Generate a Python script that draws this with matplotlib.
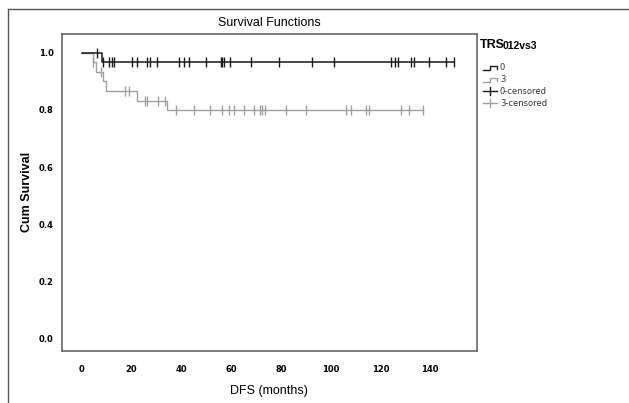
import numpy as np
import matplotlib
matplotlib.use("Agg")
import matplotlib.pyplot as plt
from matplotlib.lines import Line2D

# Kaplan-Meier steps (months, cumulative survival)
grp0_t = [0, 7.9]
grp0_s = [1.0, 0.969]
grp0_end = 149.5
grp0_cens = [6.1, 8.6, 11.0, 11.9, 13.0, 20.0, 22.0, 26.2, 27.3, 30.2, 39.1, 41.1, 43.1,
             50.1, 55.8, 56.5, 57.1, 59.4, 68.2, 79.2, 92.5, 101.3, 124.4, 126.0, 127.0,
             132.4, 133.5, 139.5, 146.5, 149.5]

grp3_t = [0, 4.4, 5.5, 8.6, 9.5, 22.2, 34.3]
grp3_s = [1.0, 0.967, 0.933, 0.9, 0.867, 0.833, 0.8]
grp3_end = 137.3
grp3_cens = [4.5, 7.8, 17.3, 18.9, 25.3, 26.2, 30.4, 33.3, 38.0, 45.2, 51.4, 56.2, 59.2,
             61.2, 65.2, 69.2, 71.5, 72.6, 73.5, 82.2, 90.2, 106.3, 108.3, 114.3, 115.4,
             128.4, 131.4, 137.3]

xticks = [0, 20, 40, 60, 80, 100, 120, 140]
yticks = [0.0, 0.2, 0.4, 0.6, 0.8, 1.0]

BLACK = "#1a1a1a"
GRAY = "#a0a0a0"
plt.rcParams["font.family"] = ["Liberation Sans", "DejaVu Sans"]


def surv_at(times, levels, t):
    idx = np.searchsorted(times, t, side="right") - 1
    return np.array(levels)[idx]


fig = plt.figure(figsize=(6.29, 4.03), dpi=100)
ax = fig.add_axes([0.0986, 0.129, 0.659, 0.787])

# gray group first so black sits on top
for times, levels, end, cens, col, lw in [
        (grp3_t, grp3_s, grp3_end, grp3_cens, GRAY, 1.0),
        (grp0_t, grp0_s, grp0_end, grp0_cens, BLACK, 1.1)]:
    tt = list(times) + [end]
    ss = list(levels) + [levels[-1]]
    ax.step(tt, ss, where="post", color=col, lw=lw, zorder=3)
    ax.plot(cens, surv_at(times, levels, cens), ls="none", marker="|",
            ms=7, mew=1.0, color=col, zorder=4)

ax.set_xlim(-8, 158.7)
ax.set_ylim(-0.042, 1.066)
ax.set_xticks(xticks)
ax.set_yticks(yticks)
ax.set_xticklabels([str(v) for v in xticks], fontsize=6, fontweight="bold",
                   family="DejaVu Sans")
ax.set_yticklabels(["%.1f" % v for v in yticks], fontsize=6, fontweight="bold",
                   family="DejaVu Sans")
ax.tick_params(axis="x", length=0, pad=10)
ax.tick_params(axis="y", length=0, pad=6)
for sp in ax.spines.values():
    sp.set_color("#666666")
    sp.set_linewidth(1.2)

ax.set_xlabel("DFS (months)", fontsize=9, labelpad=8)
ax.set_ylabel("Cum Survival", fontsize=9, fontweight="bold", labelpad=4)
ax.set_title("Survival Functions", fontsize=9, pad=6)

# outer frame of the exported chart
fig.add_artist(Line2D([8 / 629, 8 / 629], [0, 1 - 9 / 403], color="#555555", lw=1.0))
fig.add_artist(Line2D([8 / 629, 1], [1 - 9 / 403, 1 - 9 / 403], color="#555555", lw=1.0))


def fx(px):
    return px / 629


def fy(py):
    return 1 - py / 403


# legend drawn by hand
fig.text(fx(480), fy(45), "TRS", fontsize=9, fontweight="bold", va="center")
fig.text(fx(503), fy(46), "012vs3", fontsize=7.5, fontweight="bold", va="center")

entries = [("0", BLACK, "step"), ("3", GRAY, "step"),
           ("0-censored", BLACK, "cens"), ("3-censored", GRAY, "cens")]
for i, (lab, col, kind) in enumerate(entries):
    y = 68 + i * 11.7
    if kind == "step":
        fig.add_artist(Line2D([fx(483), fx(490), fx(490), fx(497), fx(497)],
                              [fy(y + 2), fy(y + 2), fy(y - 2), fy(y - 2), fy(y + 1)],
                              color=col, lw=1.0))
    else:
        fig.add_artist(Line2D([fx(483), fx(497)], [fy(y), fy(y)], color=col, lw=1.0))
        fig.add_artist(Line2D([fx(490), fx(490)], [fy(y - 4), fy(y + 4)], color=col, lw=1.0))
    fig.text(fx(500), fy(y), lab, fontsize=6, va="center", color="#333333",
             family="DejaVu Sans")

fig.savefig("out.png", dpi=100)
